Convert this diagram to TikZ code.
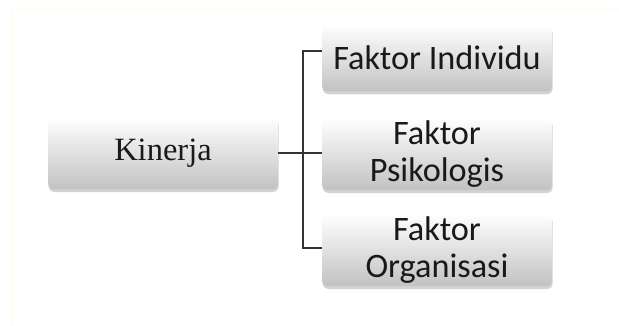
\documentclass[tikz,border=0pt]{standalone}
\usepackage{fontspec}
\setmainfont{Liberation Serif}
\newfontfamily\boxfont{Carlito}
\usepackage{tikz}
\usetikzlibrary{shadows,calc}

\begin{document}
\begin{tikzpicture}[
    x=0.02cm, y=-0.02cm,
    factor/.style={
        rectangle,
        rounded corners=3pt,
        draw=none,
        top color=white,
        bottom color=black!24,
        drop shadow={shadow xshift=0.4pt, shadow yshift=-1.6pt, opacity=0.35},
        minimum width=4.6cm,
        minimum height=1.45cm,
        align=center,
        inner sep=0pt,
        text=black!90
    },
    sidetext/.style={
        font=\boxfont\fontsize{19.5}{21}\selectfont
    },
    branch/.style={
        draw=black!80,
        line width=1.2pt
    },
    frame/.style={
        draw=black!12!yellow!6!white,
        line width=1pt
    }
]
\useasboundingbox (0,0) rectangle (619,325);

% Frame
\draw[frame] (619,10) -- (12,10) -- (12,325);

% Main box
\node[factor, font=\fontsize{18.5}{22}\selectfont] (kinerja) at (163,153) {Kinerja};

% Factors
\node[factor, sidetext, minimum height=1.34cm] (individu) at (437,58) {Faktor Individu};
\node[factor, sidetext] (psikologis) at (437,154) {Faktor\\Psikologis};
\node[factor, sidetext] (organisasi) at (437,250) {Faktor\\Organisasi};

% Connectors
\coordinate (fork) at (303,152);
\draw[branch] (kinerja.east) -- (kinerja.east -| psikologis.west);
\draw[branch] ([yshift=0.14cm]individu.west) -| (fork) |- ([yshift=0.04cm]organisasi.west);

\end{tikzpicture}
\end{document}
